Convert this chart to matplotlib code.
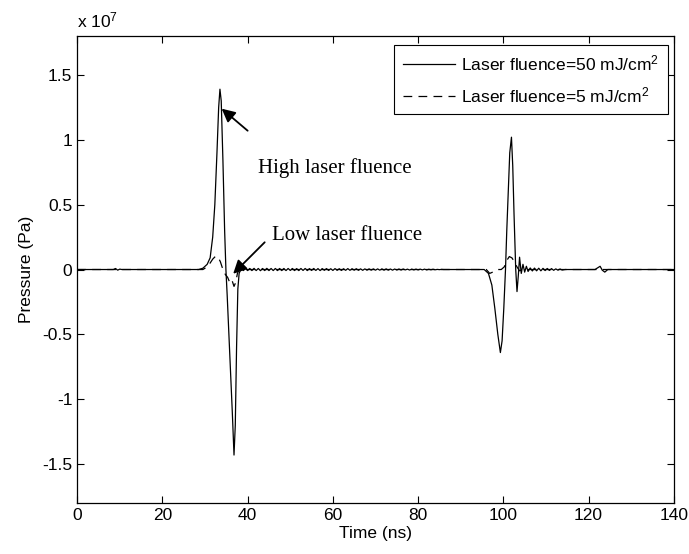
import matplotlib
matplotlib.use("Agg")
import matplotlib.pyplot as plt

plt.rcParams['font.family'] = ['Liberation Sans', 'DejaVu Sans']
plt.rcParams['mathtext.fontset'] = 'custom'
plt.rcParams['mathtext.rm'] = 'Liberation Sans'
plt.rcParams['mathtext.it'] = 'Liberation Sans:italic'

# Pressure values are in units of 1e7 Pa (shown as "x 10^7" on the axis)
# High laser fluence (50 mJ/cm2)
t_high = [0, 8.5, 9.0, 9.5, 10.0, 10.5, 28.5, 29.5, 30.5, 31.2, 31.8, 32.3, 32.8, 33.2,
          33.5, 33.8, 34.2, 34.6, 34.9, 35.2, 35.6, 36.0, 36.4, 36.8, 37.1, 37.4, 37.7, 38.0,
          38.5, 39.0, 39.5, 40.0, 40.5, 41.0, 41.5, 42.0, 42.5, 43.0, 43.5, 44.0, 44.5, 45.0,
          45.5, 46.0, 46.5, 47.0, 47.5, 48.0, 48.5, 49.0, 49.5, 50.0, 50.5, 51.0, 51.5, 52.0,
          52.5, 53.0, 53.5, 54.0, 54.5, 55.0, 55.5, 56.0, 56.5, 57.0, 57.5, 58.0, 58.5, 59.0,
          59.5, 60.0, 60.5, 61.0, 61.5, 62.0, 62.5, 63.0, 63.5, 64.0, 64.5, 65.0, 65.5, 66.0,
          66.5, 67.0, 67.5, 68.0, 68.5, 69.0, 69.5, 70.0, 70.5, 71.0, 71.5, 72.0, 72.5, 73.0,
          73.5, 74.0, 74.5, 75.0, 75.5, 76.0, 76.5, 77.0, 77.5, 78.0, 78.5, 79.0, 79.5, 80.0,
          80.5, 81.0, 81.5, 82.0, 82.5, 83.0, 83.5, 84.0, 84.5, 85.0, 85.5, 86.0, 87.0,
          95.5, 96.5, 97.3, 98.0, 98.7, 99.3, 99.7, 100.1, 100.5, 100.8, 101.1, 101.5, 101.9,
          102.2, 102.5, 102.9, 103.2, 103.5, 103.8, 104.2, 104.6, 105.0, 105.4, 105.8,
          106.3, 106.8, 107.3, 107.8, 108.3, 108.8, 109.3, 109.8, 110.3, 110.8, 111.3, 111.8,
          112.3, 112.8, 113.3, 113.8, 114.5, 121.5, 122.2, 122.7, 123.2, 123.8, 124.5, 140]
p_high = [0, 0, 0.008, -0.005, 0.003, 0, 0, 0.01, 0.04, 0.09, 0.25, 0.5, 0.9, 1.25,
          1.39, 1.3, 0.84, 0.3, 0.0, -0.2, -0.5, -0.8, -1.1, -1.43, -1.2, -0.6, -0.15, -0.03,
          0.009, -0.008, 0.009, -0.008, 0.008, -0.008, 0.009, -0.008, 0.008, -0.009, 0.008, -0.008,
          0.009, -0.008, 0.008, -0.008, 0.008, -0.008, 0.008, -0.008, 0.008, -0.008, 0.008, -0.007,
          0.008, -0.008, 0.007, -0.008, 0.008, -0.007, 0.008, -0.008, 0.007, -0.007, 0.008, -0.007,
          0.007, -0.008, 0.007, -0.006, 0.007, -0.007, 0.006, -0.007, 0.007, -0.006, 0.006, -0.007,
          0.006, -0.006, 0.007, -0.006, 0.006, -0.005, 0.006, -0.006, 0.005, -0.006, 0.005, -0.005,
          0.005, -0.005, 0.005, -0.005, 0.005, -0.005, 0.005, -0.005, 0.005, -0.005, 0.004, -0.005,
          0.004, -0.004, 0.004, -0.004, 0.004, -0.003, 0.003, -0.004, 0.003, -0.003, 0.003, -0.003,
          0.003, -0.003, 0.003, -0.003, 0.002, -0.002, 0.002, -0.002, 0.001, -0.001, 0.001, 0.0, 0.0,
          0.0, -0.03, -0.12, -0.3, -0.5, -0.64, -0.55, -0.3, 0.0, 0.3, 0.55, 0.9, 1.02,
          0.8, 0.43, 0.0, -0.17, -0.05, 0.095, -0.03, 0.04, -0.02, 0.025, -0.015,
          0.012, -0.011, 0.011, -0.010, 0.010, -0.010, 0.009, -0.008, 0.008, -0.007, 0.007, -0.006,
          0.005, -0.005, 0.004, -0.004, 0.0, 0.0, 0.015, 0.025, -0.005, -0.02, 0.0, 0.0]

# Low laser fluence (5 mJ/cm2)
t_low = [0, 29.5, 30.5, 31.2, 31.8, 32.4, 33.0, 33.6, 34.2, 34.8, 35.3, 35.8, 36.3, 36.8,
         37.2, 37.6, 38.0, 38.5, 96.0, 96.8, 97.5, 98.5, 99.5, 100.2, 100.8, 101.4, 102.0,
         102.6, 103.2, 103.8, 104.5, 140]
p_low = [0, 0, 0.02, 0.05, 0.08, 0.1, 0.1, 0.06, 0.0, -0.04, -0.06, -0.1, -0.08, -0.13,
         -0.1, -0.03, 0.0, 0.0, 0.0, -0.03, -0.02, 0.0, 0.0, 0.02, 0.07, 0.1, 0.09,
         0.06, 0.02, -0.01, 0.0, 0.0]

labels = ['Laser fluence=50 mJ/cm$^2$', 'Laser fluence=5 mJ/cm$^2$']

fig = plt.figure(figsize=(6.89, 5.54), dpi=100)
ax = fig.add_axes([0.112, 0.092, 0.866, 0.843])

ax.plot(t_high, p_high, color='black', lw=0.9, label=labels[0])
ax.plot(t_low, p_low, color='black', lw=0.9, dashes=(7, 5), label=labels[1])

ax.set_xlim(0, 140)
ax.set_ylim(-1.8, 1.8)
ax.set_xticks([0, 20, 40, 60, 80, 100, 120, 140])
ax.set_yticks([-1.5, -1, -0.5, 0, 0.5, 1, 1.5])
ax.set_yticklabels(['-1.5', '-1', '-0.5', '0', '0.5', '1', '1.5'])
ax.tick_params(direction='in', length=5, width=0.8, top=True, right=True, labelsize=12.5)
for s in ax.spines.values():
    s.set_linewidth(0.9)

ax.set_xlabel('Time (ns)', fontsize=12.5, labelpad=2)
ax.set_ylabel('Pressure (Pa)', fontsize=12.5, labelpad=6)
ax.text(0.0, 1.012, 'x 10$^{7}$', transform=ax.transAxes, fontsize=12.5, va='bottom', ha='left')

serif = ['Liberation Serif', 'DejaVu Serif']
arrow = dict(arrowstyle='-|>,head_length=0.4,head_width=0.2', color='black', lw=1.3,
             mutation_scale=20, shrinkA=0, shrinkB=0)
ax.annotate('', xy=(33.9, 1.24), xytext=(40.0, 1.07), arrowprops=arrow)
ax.text(42.4, 0.78, 'High laser fluence', family=serif, fontsize=15, va='center', ha='left')
ax.annotate('', xy=(36.6, -0.033), xytext=(44.0, 0.21), arrowprops=arrow)
ax.text(45.8, 0.26, 'Low laser fluence', family=serif, fontsize=15, va='center', ha='left')

leg = ax.legend(loc='upper right', bbox_to_anchor=(0.990, 0.981), borderaxespad=0,
                fontsize=12.5, fancybox=False, edgecolor='black', framealpha=1,
                handlelength=3.0, handletextpad=0.35, labelspacing=0.7, borderpad=0.5)
leg.get_frame().set_linewidth(0.8)

plt.savefig('out.png', dpi=100)
